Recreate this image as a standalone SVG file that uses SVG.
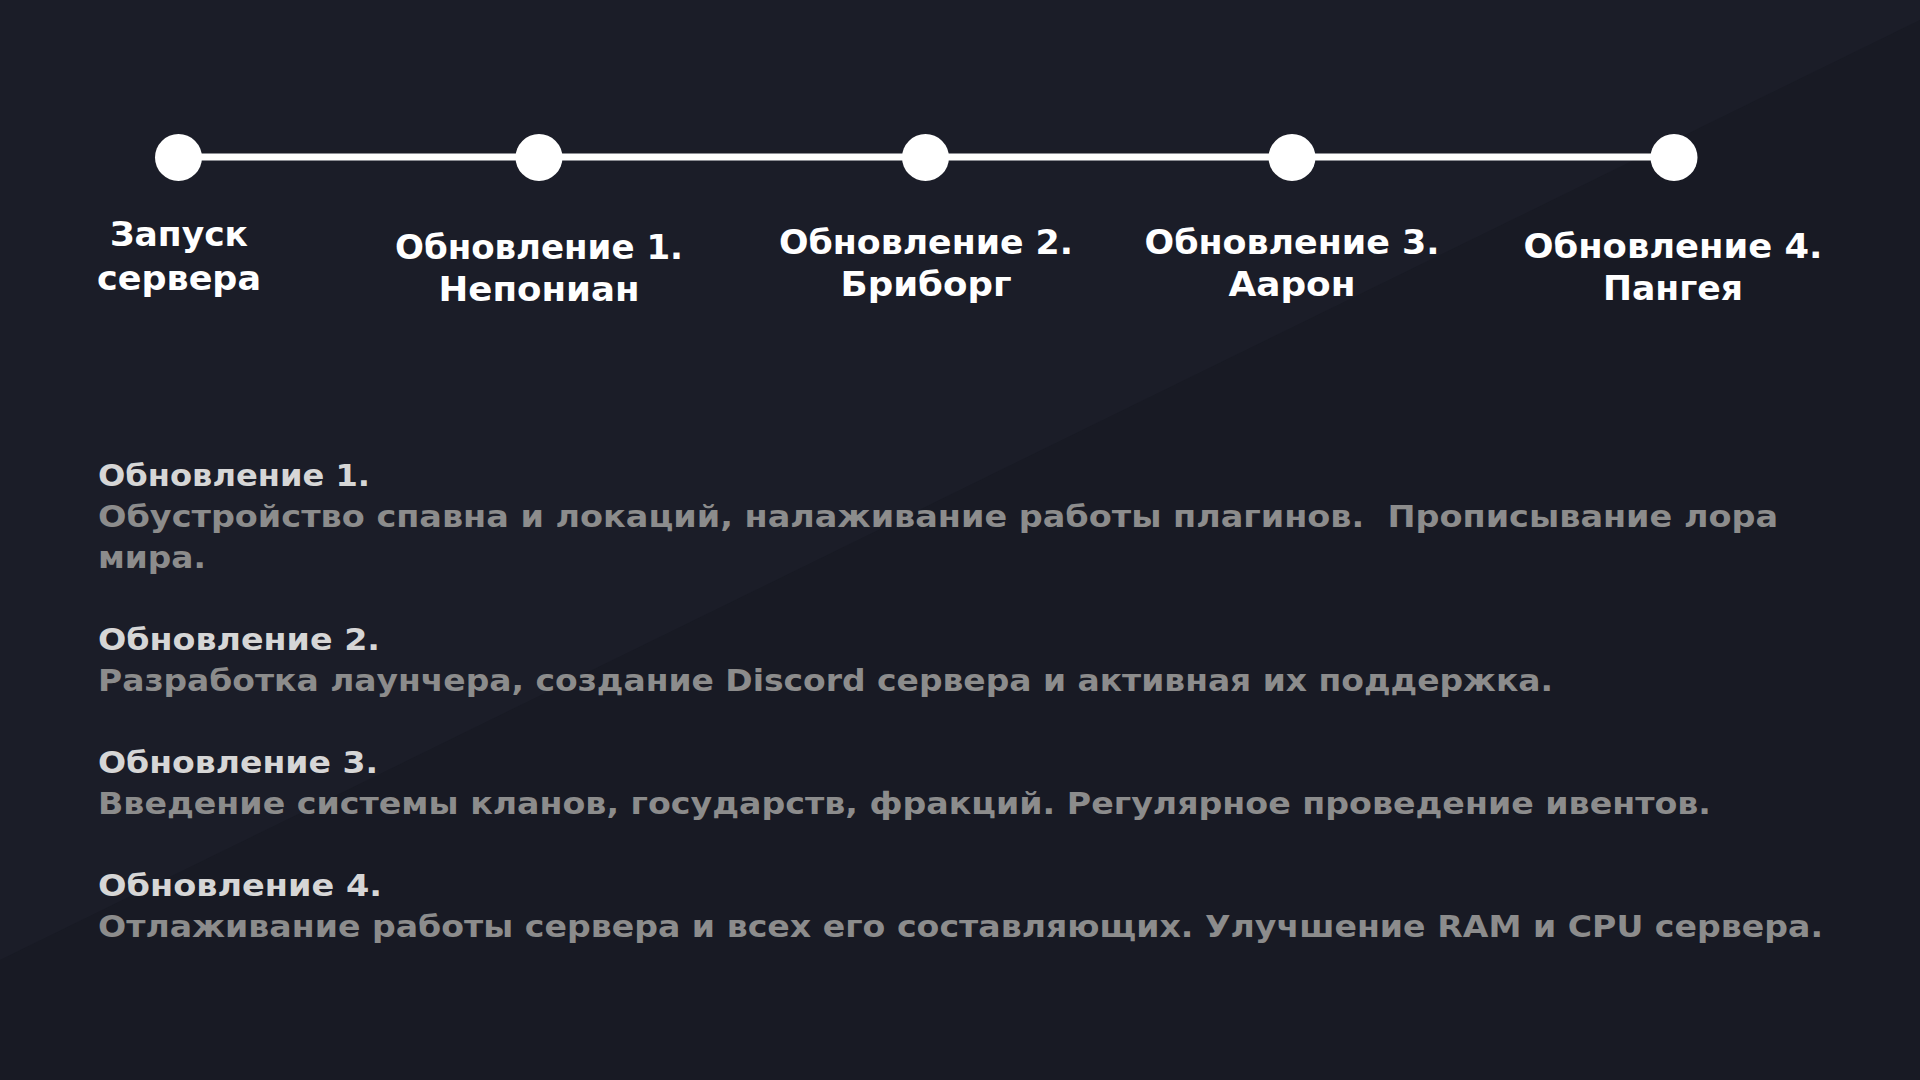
<svg xmlns="http://www.w3.org/2000/svg" width="1920" height="1080" viewBox="0 0 1920 1080">
  <style>
    .lbl { font-family: "DejaVu Sans", "Liberation Sans", sans-serif; font-weight: bold; font-size: 34px; fill: #ffffff; text-anchor: middle; }
    .hd { font-family: "DejaVu Sans", "Liberation Sans", sans-serif; font-weight: bold; font-size: 30px; fill: #d6d6d6; }
    .bd { font-family: "DejaVu Sans", "Liberation Sans", sans-serif; font-weight: bold; font-size: 30px; fill: #8c8c8c; }
    .dot { fill: #ffffff; }
  </style>
  <rect x="0" y="0" width="1920" height="1080" fill="#181a24"/>
  <polygon points="0,0 1920,0 1920,20 0,960" fill="#1b1d28"/>

  <g id="connectors">
    <line x1="178" y1="157" x2="1674" y2="157" stroke="#ffffff" stroke-width="7"/>
  </g>

  <g id="node-start">
    <circle class="dot" cx="178.5" cy="157.5" r="23.5"/>
    <text class="lbl" x="179" y="246" textLength="138" lengthAdjust="spacingAndGlyphs">Запуск</text>
    <text class="lbl" x="179" y="290" textLength="164" lengthAdjust="spacingAndGlyphs">сервера</text>
  </g>
  <g id="node-update1">
    <circle class="dot" cx="539" cy="157.5" r="23.5"/>
    <text class="lbl" x="539" y="259" textLength="288" lengthAdjust="spacingAndGlyphs">Обновление 1.</text>
    <text class="lbl" x="539" y="301" textLength="201" lengthAdjust="spacingAndGlyphs">Непониан</text>
  </g>
  <g id="node-update2">
    <circle class="dot" cx="925.5" cy="157.5" r="23.5"/>
    <text class="lbl" x="926" y="254" textLength="294" lengthAdjust="spacingAndGlyphs">Обновление 2.</text>
    <text class="lbl" x="926" y="296" textLength="171" lengthAdjust="spacingAndGlyphs">Бриборг</text>
  </g>
  <g id="node-update3">
    <circle class="dot" cx="1292" cy="157.5" r="23.5"/>
    <text class="lbl" x="1292" y="254" textLength="295" lengthAdjust="spacingAndGlyphs">Обновление 3.</text>
    <text class="lbl" x="1292" y="296" textLength="127" lengthAdjust="spacingAndGlyphs">Аарон</text>
  </g>
  <g id="node-update4">
    <circle class="dot" cx="1674" cy="157.5" r="23.5"/>
    <text class="lbl" x="1673" y="258" textLength="299" lengthAdjust="spacingAndGlyphs">Обновление 4.</text>
    <text class="lbl" x="1673" y="300" textLength="140" lengthAdjust="spacingAndGlyphs">Пангея</text>
  </g>

  <g id="descriptions">
    <text class="hd" x="98" y="486" textLength="272" lengthAdjust="spacingAndGlyphs">Обновление 1.</text>
    <text class="bd" x="98" y="527" textLength="1680" lengthAdjust="spacingAndGlyphs" xml:space="preserve">Обустройство спавна и локаций, налаживание работы плагинов.  Прописывание лора</text>
    <text class="bd" x="98" y="568" textLength="108" lengthAdjust="spacingAndGlyphs">мира.</text>

    <text class="hd" x="98" y="650" textLength="282" lengthAdjust="spacingAndGlyphs">Обновление 2.</text>
    <text class="bd" x="98" y="691" textLength="1455" lengthAdjust="spacingAndGlyphs">Разработка лаунчера, создание Discord сервера и активная их поддержка.</text>

    <text class="hd" x="98" y="773" textLength="280" lengthAdjust="spacingAndGlyphs">Обновление 3.</text>
    <text class="bd" x="98" y="814" textLength="1613" lengthAdjust="spacingAndGlyphs">Введение системы кланов, государств, фракций. Регулярное проведение ивентов.</text>

    <text class="hd" x="98" y="896" textLength="284" lengthAdjust="spacingAndGlyphs">Обновление 4.</text>
    <text class="bd" x="98" y="937" textLength="1725" lengthAdjust="spacingAndGlyphs">Отлаживание работы сервера и всех его составляющих. Улучшение RAM и CPU сервера.</text>
  </g>
</svg>
